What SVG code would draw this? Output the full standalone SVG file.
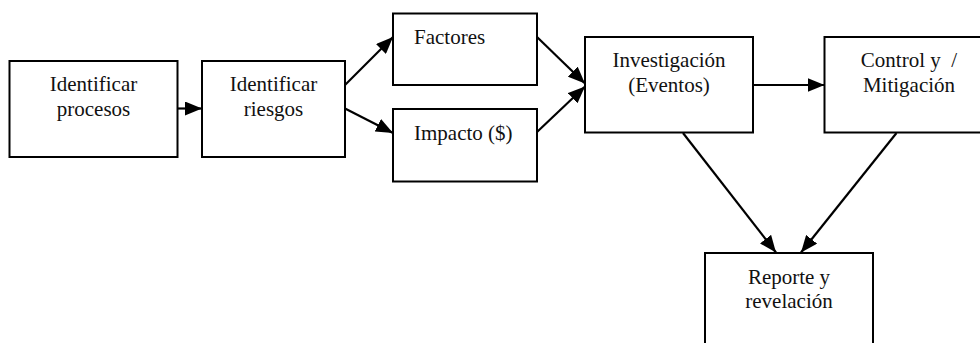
<svg xmlns="http://www.w3.org/2000/svg" width="980" height="343" viewBox="0 0 980 343">
  <style>
    .box { fill: #ffffff; stroke: #000000; stroke-width: 2; }
    .lbl { font-family: "Liberation Serif", "Times New Roman", serif; font-size: 21px; fill: #111111; }
    .mid { text-anchor: middle; }
    .edge { stroke: #000000; stroke-width: 2.2; fill: none; marker-end: url(#head); }
  </style>
  <defs>
    <marker id="head" markerUnits="userSpaceOnUse" markerWidth="17" markerHeight="14" refX="17" refY="7" orient="auto">
      <path d="M0,0 L17,7 L0,14 z" fill="#000000"/>
    </marker>
  </defs>
  <rect width="980" height="343" fill="#ffffff"/>

  <g id="connectors">
    <line class="edge" x1="178" y1="108.5" x2="202" y2="108.5"/>
    <line class="edge" x1="345" y1="85" x2="393" y2="37"/>
    <line class="edge" x1="345" y1="108.5" x2="393" y2="133"/>
    <line class="edge" x1="537" y1="37" x2="585" y2="83.5"/>
    <line class="edge" x1="537" y1="132" x2="585" y2="86.5"/>
    <line class="edge" x1="753" y1="85" x2="824.5" y2="85"/>
    <line class="edge" x1="683" y1="133" x2="776" y2="252.5"/>
    <line class="edge" x1="896.5" y1="133" x2="801" y2="252.5"/>
  </g>

  <g id="identificar-procesos">
    <rect class="box" x="9.5" y="61" width="168" height="96"/>
    <text class="lbl mid" x="93.5" y="91">Identificar</text>
    <text class="lbl mid" x="93.5" y="115.5">procesos</text>
  </g>

  <g id="identificar-riesgos">
    <rect class="box" x="202" y="61" width="143" height="96"/>
    <text class="lbl mid" x="273.5" y="91">Identificar</text>
    <text class="lbl mid" x="273.5" y="115.5">riesgos</text>
  </g>

  <g id="factores">
    <rect class="box" x="393" y="13.5" width="144" height="71.5"/>
    <text class="lbl" x="414" y="43.5">Factores</text>
  </g>

  <g id="impacto">
    <rect class="box" x="393" y="109" width="144" height="72.5"/>
    <text class="lbl" x="414" y="139.5">Impacto ($)</text>
  </g>

  <g id="investigacion">
    <rect class="box" x="585" y="37" width="168" height="95.5"/>
    <text class="lbl mid" x="669" y="66.5">Investigación</text>
    <text class="lbl mid" x="669" y="91.5">(Eventos)</text>
  </g>

  <g id="control-mitigacion">
    <rect class="box" x="824.5" y="37" width="170" height="95.5"/>
    <text class="lbl mid" x="909" y="66.5" xml:space="preserve">Control y  /</text>
    <text class="lbl mid" x="909" y="91.5">Mitigación</text>
  </g>

  <g id="reporte-revelacion">
    <rect class="box" x="705" y="253" width="168" height="96"/>
    <text class="lbl mid" x="789" y="283.5">Reporte y</text>
    <text class="lbl mid" x="789" y="308">revelación</text>
  </g>
</svg>
